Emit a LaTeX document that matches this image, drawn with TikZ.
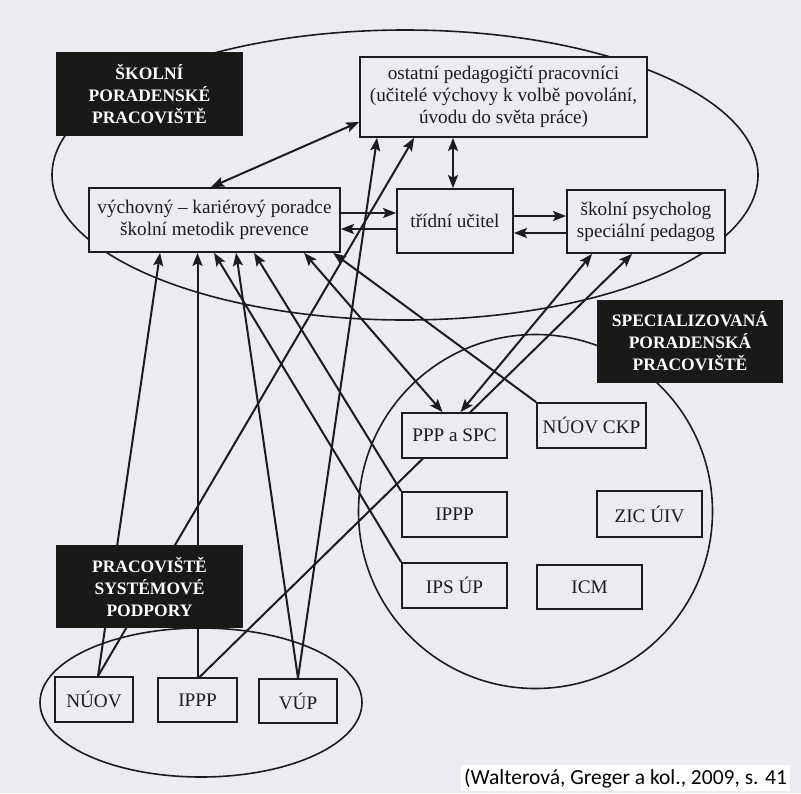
\documentclass[tikz,border=0pt]{standalone}
\usepackage{fontspec}
\setmainfont{Liberation Serif}
\newfontfamily\citefont{Carlito}
\usetikzlibrary{arrows.meta,calc}
\definecolor{pagebg}{RGB}{236,236,240}
\definecolor{boxblack}{RGB}{24,26,24}
\definecolor{ink}{RGB}{28,28,32}
\pgfdeclarelayer{bgzero}
\pgfdeclarelayer{bgone}
\pgfsetlayers{bgzero,bgone,main}
\begin{document}
\begin{tikzpicture}[x=1pt,y=-1pt,
  wbox/.style={draw=ink, line width=1.8pt, fill=pagebg, inner sep=0pt, align=center,
               font=\fontsize{19.2}{22}\selectfont, text=ink},
  bbox/.style={fill=boxblack, inner sep=0pt, align=center, text=white,
               font=\fontsize{17.5}{22}\selectfont\bfseries},
  conn/.style={line width=2pt, draw=ink},
  arr/.style={conn, -{Stealth[length=13pt,width=10pt,inset=2.5pt]}},
  darr/.style={conn, {Stealth[length=13pt,width=10pt,inset=2.5pt]}-{Stealth[length=13pt,width=10pt,inset=2.5pt]}},
  ring/.style={line width=1.6pt, draw=ink}
]
\useasboundingbox (0,0) rectangle (801,793);
\begin{pgfonlayer}{bgzero}
  \fill[pagebg] (0,0) rectangle (801,793);
\end{pgfonlayer}

% black group labels
\node[bbox, minimum width=187pt, minimum height=84pt] (skolni) at (149.5,94) {ŠKOLNÍ\\PORADENSKÉ\\PRACOVIŠTĚ};
\node[bbox, minimum width=186pt, minimum height=83pt] (spec) at (690,341.5) {SPECIALIZOVANÁ\\PORADENSKÁ\\PRACOVIŠTĚ};
\node[bbox, minimum width=187pt, minimum height=83pt] (syst) at (149.5,586.5) {PRACOVIŠTĚ\\SYSTÉMOVÉ\\PODPORY};

% school boxes
\node[wbox, minimum width=287pt, minimum height=80pt] (ostatni) at (503.5,97) {ostatní pedagogičtí pracovníci\\(učitelé výchovy k volbě povolání,\\úvodu do světa práce)};
\node[wbox, minimum width=251pt, minimum height=64pt] (vych) at (214.5,220) {výchovný – kariérový poradce\\školní metodik prevence};
\node[wbox, minimum width=116pt, minimum height=64pt] (tridni) at (455,221) {třídní učitel};
\node[wbox, minimum width=158pt, minimum height=63pt] (psych) at (646,221.5) {školní psycholog\\speciální pedagog};

% specialised boxes
\node[wbox, minimum width=105pt, minimum height=45pt] (pppspc) at (454.5,435.5) {PPP a SPC};
\node[wbox, minimum width=109pt, minimum height=45pt] (nuovckp) at (591.5,425.5) {NÚOV CKP};
\node[wbox, minimum width=105pt, minimum height=45pt] (ippp2) at (454.5,514.5) {IPPP};
\node[wbox, minimum width=105pt, minimum height=46pt] (zic) at (649.5,514) {ZIC ÚIV};
\node[wbox, minimum width=105pt, minimum height=45pt] (ipsup) at (454.5,585.5) {IPS ÚP};
\node[wbox, minimum width=105pt, minimum height=44pt] (icm) at (589.5,587) {ICM};

% system support boxes
\node[wbox, minimum width=78pt, minimum height=45pt] (nuov) at (94,699.5) {NÚOV};
\node[wbox, minimum width=79pt, minimum height=44pt] (ippp1) at (197.5,700) {IPPP};
\node[wbox, minimum width=78pt, minimum height=44pt] (vup) at (298,701) {VÚP};

% citation
\node[anchor=base west, fill=white, inner sep=3pt, text=black,
      font=\citefont\fontsize{21.5}{25}\selectfont] (cite) at (461,784) {(Walterová, Greger a kol., 2009, s. 41};

\begin{pgfonlayer}{bgone}
  % group outlines
  \draw[ring] (405,175) ellipse [x radius=353pt, y radius=145pt];
  \draw[ring] (535.5,511.5) circle [radius=177pt];
  \draw[ring] (201,702.5) ellipse [x radius=161pt, y radius=74.5pt];

  % inside school
  \draw[darr] ([xshift=123pt]vych.north west) -- ([yshift=-25pt]ostatni.west);
  \draw[darr] ([xshift=-2pt]tridni.north) -- ([xshift=-2pt]tridni.north |- ostatni.south);
  \draw[arr] ([yshift=7pt]vych.east) -- ([yshift=7pt]vych.east -| tridni.west);
  \draw[arr] ([yshift=-9pt]vych.east -| tridni.west) -- ([yshift=-9pt]vych.east);
  \draw[arr] ([yshift=5pt]tridni.east) -- ([yshift=5pt]tridni.east -| psych.west);
  \draw[arr] ([yshift=-12pt]tridni.east -| psych.west) -- ([yshift=-12pt]tridni.east);

  % to vychovny poradce
  \draw[arr] ([xshift=4pt]nuov.north) -- ([xshift=72pt]vych.south west);
  \draw[arr] (ippp1.north) -- (ippp1.north |- vych.south);
  \draw[arr] (ipsup.north west) -- ([xshift=126pt]vych.south west);
  \draw[arr] (vup.north) -- ([xshift=148pt]vych.south west);
  \draw[arr] (ippp2.north west) -- ([xshift=166pt]vych.south west);
  \draw[darr] ([xshift=216pt]vych.south west) -- ([xshift=-12pt]pppspc.north);
  \draw[arr] (nuovckp.north west) -- ([xshift=245pt]vych.south west);

  % to ostatni pracovnici
  \draw[arr] ([xshift=4pt]nuov.north) -- ([xshift=55pt]ostatni.south west);
  \draw[arr] (vup.north) -- ([xshift=18pt]ostatni.south west);

  % to skolni psycholog
  \draw[darr] ([xshift=6pt]pppspc.north) -- ([xshift=26pt]psych.south west);
  \draw[arr] ([xshift=2pt]ippp1.north) -- ([xshift=66pt]psych.south west);
\end{pgfonlayer}
\end{tikzpicture}
\end{document}
